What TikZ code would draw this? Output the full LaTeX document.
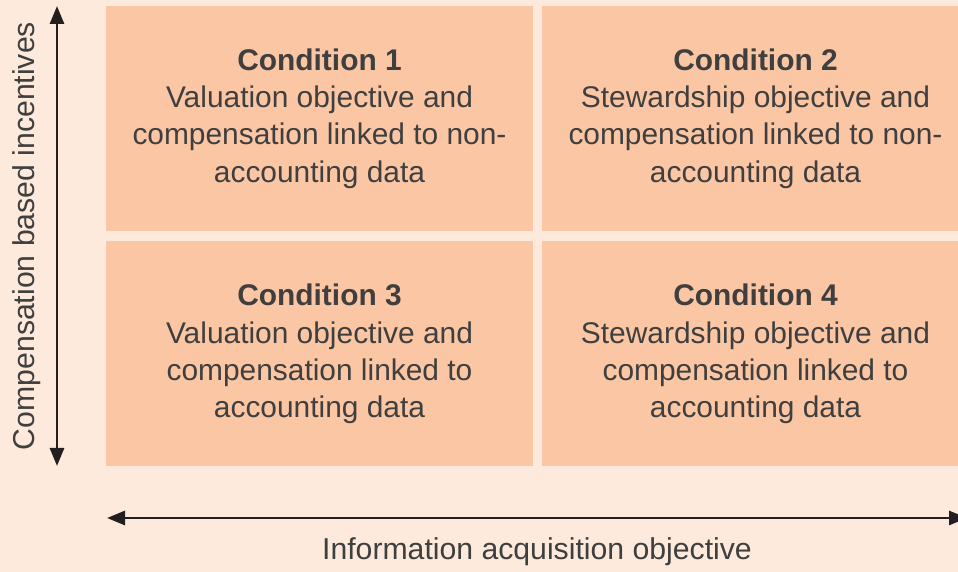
\documentclass[tikz,border=0pt]{standalone}
\usepackage{fontspec}
\setmainfont{Liberation Sans}
\usetikzlibrary{arrows.meta}

\definecolor{bgpeach}{HTML}{FDEADD}
\definecolor{boxsalmon}{HTML}{FBC6A4}
\definecolor{textgrey}{HTML}{3F3F3F}
\definecolor{arrowblack}{HTML}{231F20}

\begin{document}
\begin{tikzpicture}[x=1pt, y=1pt,
    cond/.style={fill=boxsalmon, minimum width=427pt, minimum height=225pt, inner sep=0pt,
      align=center, text=textgrey, font=\fontsize{29.9}{37.2}\selectfont},
    axislabel/.style={text=textgrey, font=\fontsize{30.2}{37}\selectfont},
    axis/.style={line width=2.8pt, color=arrowblack,
      {Triangle[length=18pt, width=14pt]}-{Triangle[length=18pt, width=14pt]}}]
      \fill[bgpeach] (0,0) rectangle (958,572);
      \useasboundingbox (0,0) rectangle (958,572);

      \node[cond] (cond1) at (319.5,453.5) {\textbf{Condition 1}\\Valuation objective and\\compensation linked to non-\\accounting data};
      \node[cond] (cond2) at (755.5,453.5) {\textbf{Condition 2}\\Stewardship objective and\\compensation linked to non-\\accounting data};
      \node[cond] (cond3) at (319.5,218) {\textbf{Condition 3}\\Valuation objective and\\compensation linked to\\accounting data};
      \node[cond] (cond4) at (755.5,218) {\textbf{Condition 4}\\Stewardship objective and\\compensation linked to\\accounting data};

      \coordinate (vtop) at (57,566);
      \coordinate (vbot) at (57,106);
      \coordinate (hleft) at (107,54);
      \coordinate (hright) at (967,54);

      \draw[axis] (vbot) -- (vtop);
      \draw[axis] (hleft) -- (hright);

      \node[axislabel, rotate=90] (incentives) at (27,336) {Compensation based incentives};
      \node[axislabel] (objective) at (537,20) {Information acquisition objective};
    \end{tikzpicture}
\end{document}
